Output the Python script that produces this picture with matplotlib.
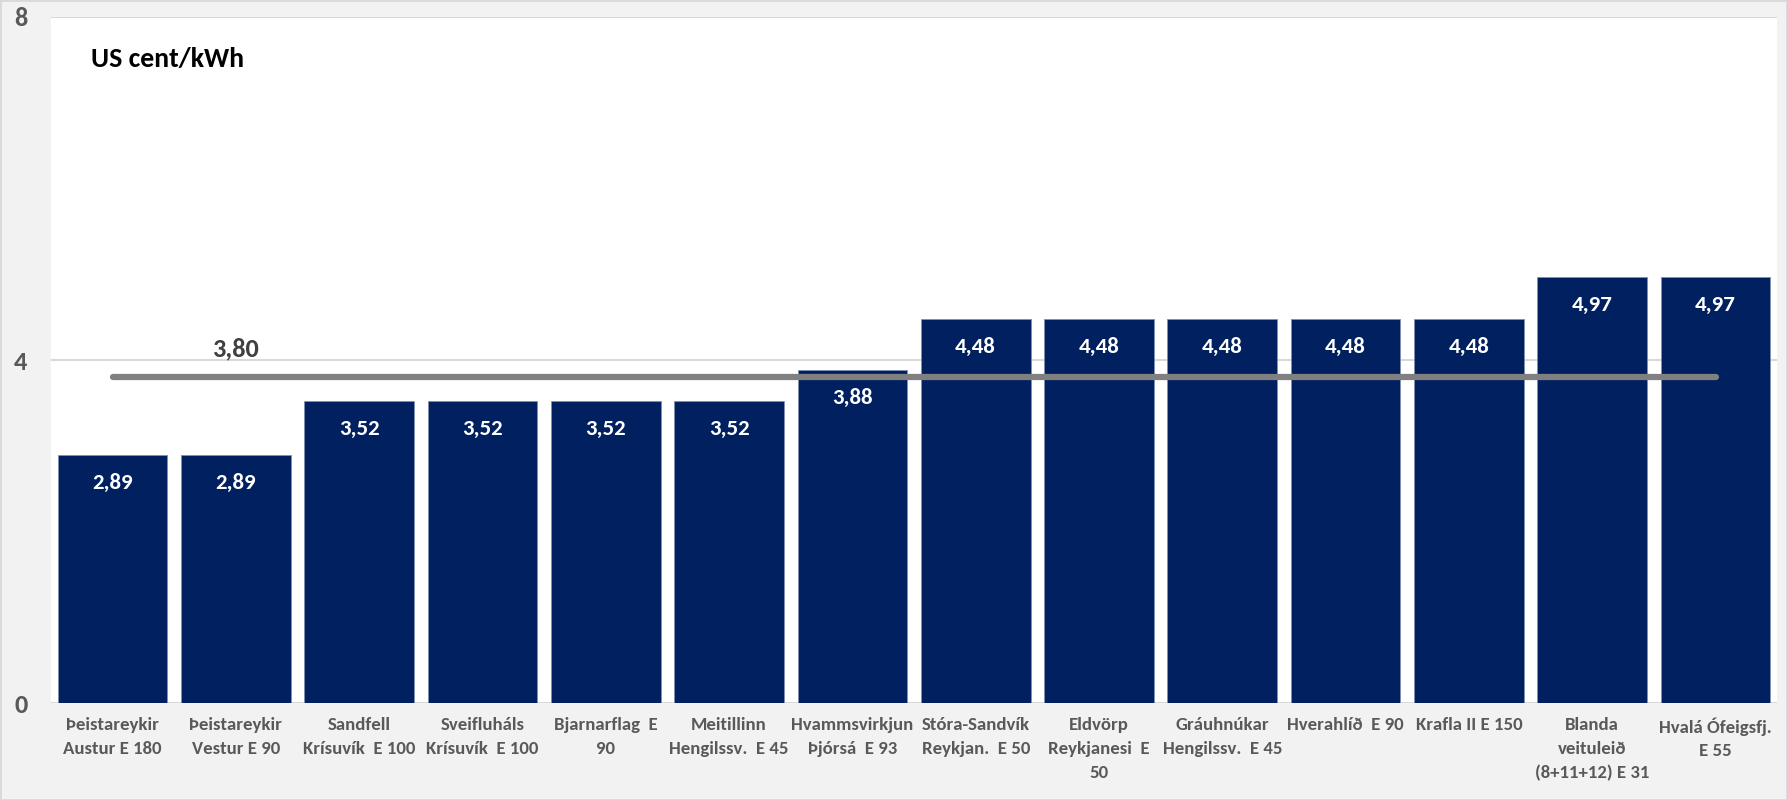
import numpy as np
import matplotlib.pyplot as plt
from matplotlib import font_manager

names = ["Þeistareykir\nAustur E 180", "Þeistareykir\nVestur E 90",
         "Sandfell\nKrísuvík  E 100", "Sveifluháls\nKrísuvík  E 100",
         "Bjarnarflag  E\n90", "Meitillinn\nHengilssv.  E 45",
         "Hvammsvirkjun\nÞjórsá  E 93", "Stóra-Sandvík\nReykjan.  E 50",
         "Eldvörp\nReykjanesi  E\n50", "Gráuhnúkar\nHengilssv.  E 45",
         "Hverahlíð  E 90", "Krafla II E 150",
         "Blanda\nveituleið\n(8+11+12) E 31", "Hvalá Ófeigsfj.\nE 55"]
cost = [2.89, 2.89, 3.52, 3.52, 3.52, 3.52, 3.88, 4.48, 4.48, 4.48, 4.48, 4.48, 4.97, 4.97]
average = 3.80
yticks = [0, 4, 8]

avail = {f.name for f in font_manager.fontManager.ttflist}
main_font = 'Carlito' if 'Carlito' in avail else 'Lato'
plt.rcParams['font.family'] = [main_font, 'DejaVu Sans']

fig = plt.figure(figsize=(17.87, 8), dpi=100, facecolor='#f2f2f2')
ax = fig.add_axes([0.0285, 0.121, 0.966, 0.858])
ax.set_facecolor('white')

x = np.arange(len(cost))
ax.bar(x, cost, width=0.89, color='#002060', edgecolor='#8090b0', linewidth=0.6, zorder=2)
ax.plot([x[0], x[-1]], [average, average], color='#808080', lw=4.5,
        solid_capstyle='round', zorder=3)
ax.text(x[1], average + 0.2, f"{average:.2f}".replace('.', ','), ha='center', va='bottom',
        fontsize=19, fontweight='bold', color='#404040', zorder=4)

for xi, v in zip(x, cost):
    ax.annotate(f"{v:.2f}".replace('.', ','), (xi, v), xytext=(0, -20), textcoords='offset points',
                ha='center', va='center', color='white', fontsize=16.5, fontweight='bold', zorder=4)

ax.set_xlim(-0.5, len(cost) - 0.5)
ax.set_ylim(0, 8)
ax.set_yticks(yticks)
ax.set_yticklabels([str(t) for t in yticks], fontsize=19, fontweight='bold', color='#595959')
ax.tick_params(axis='y', length=0, pad=17)
ax.set_xticks(x)
ax.set_xticklabels(names, fontsize=13.5, fontweight='bold', color='#595959',
                   linespacing=1.6, va='top')
ax.tick_params(axis='x', length=0, pad=10)
ax.grid(axis='y', color='#d9d9d9', lw=1.5, zorder=0)
for s in ax.spines.values():
    s.set_visible(False)

ax.text(0.023, 0.939, "US cent/kWh", transform=ax.transAxes, fontsize=20,
        fontweight='bold', color='black', ha='left', va='center')

fig.patches.append(plt.Rectangle((0, 0), 1, 1, transform=fig.transFigure, fill=False,
                                 edgecolor='#d9d9d9', lw=2))
fig.savefig('out.png', dpi=100, facecolor=fig.get_facecolor())
